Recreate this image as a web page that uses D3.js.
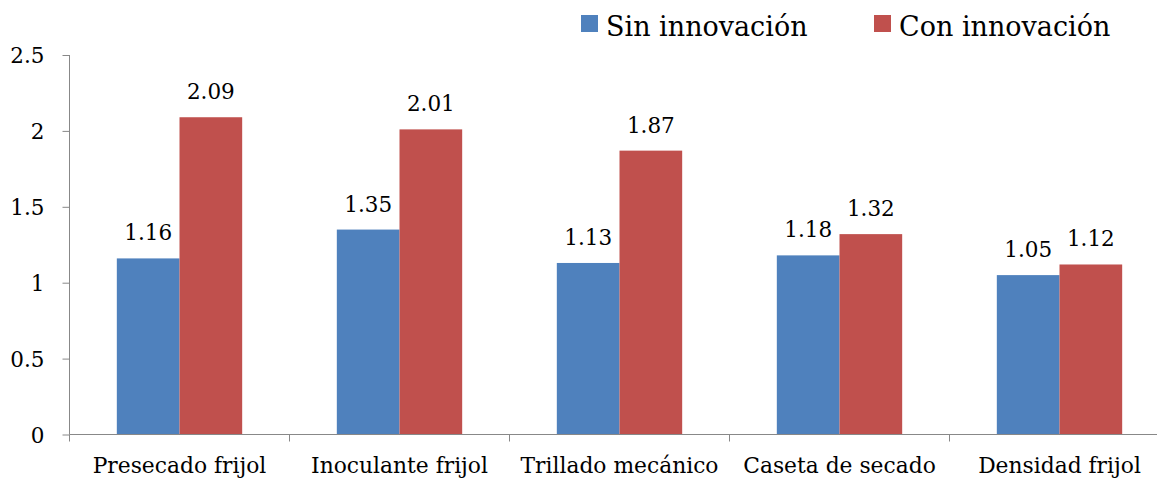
<!DOCTYPE html>
<html>
<head>
<meta charset="utf-8">
<script src="https://cdn.jsdelivr.net/npm/d3@7"></script>
<style>
  body { margin: 0; background: #fff; }
  text { font-family: "DejaVu Serif", serif; fill: #000; }
</style>
</head>
<body>
<script>
// chart data
var categories = ["Presecado frijol", "Inoculante frijol", "Trillado mecánico", "Caseta de secado", "Densidad frijol"];
var seriesNames = ["Sin innovación", "Con innovación"];
var sinValues = [1.16, 1.35, 1.13, 1.18, 1.05];
var conValues = [2.09, 2.01, 1.87, 1.32, 1.12];
var yTicks = [0, 0.5, 1, 1.5, 2, 2.5];

var colors = ["#4f81bd", "#c0504d"];
var axisColor = "#888888";

var width = 1157, height = 482;
var plotLeft = 69.5, plotRight = 1169.5, plotTop = 55, plotBottom = 434.5;

var svg = d3.select("body").append("svg")
  .attr("width", width)
  .attr("height", height);

var x = d3.scaleBand().domain(categories).range([plotLeft, plotRight]);
var inner = d3.scaleBand().domain([0, 1]).range([0, x.bandwidth()])
  .paddingInner(0).paddingOuter(0.755);
var y = d3.scaleLinear().domain([0, 2.5]).range([plotBottom, plotTop]);

var rows = categories.map(function(c, i){
  return { cat: c, vals: [sinValues[i], conValues[i]] };
});

// bars
var groups = svg.selectAll("g.cat")
  .data(rows)
  .enter()
  .append("g")
  .attr("class", "cat")
  .attr("transform", function(d){ return "translate(" + x(d.cat) + ",0)"; });

groups.selectAll("rect")
  .data(function(d){ return d.vals; })
  .enter()
  .append("rect")
  .attr("x", function(d, i){ return inner(i); })
  .attr("width", inner.bandwidth())
  .attr("y", function(d){ return y(d); })
  .attr("height", function(d){ return y(0) - y(d); })
  .attr("fill", function(d, i){ return colors[i]; });

// value labels
groups.selectAll("text.val")
  .data(function(d){ return d.vals; })
  .enter()
  .append("text")
  .attr("class", "val")
  .attr("x", function(d, i){ return inner(i) + inner.bandwidth() / 2; })
  .attr("y", function(d){ return y(d) - 18; })
  .attr("text-anchor", "middle")
  .style("font-size", "21.5px")
  .text(function(d){ return d.toFixed(2); });

// y axis
var yAxis = svg.append("g")
  .attr("transform", "translate(" + plotLeft + ",0)")
  .call(d3.axisLeft(y).tickValues(yTicks).tickSize(7).tickPadding(18)
    .tickFormat(function(d){ return String(d); }));
yAxis.select(".domain").attr("stroke", axisColor).attr("d", "M0," + plotTop + "V" + plotBottom);
yAxis.selectAll(".tick line").attr("stroke", axisColor);
yAxis.selectAll(".tick text")
  .attr("dy", "0.35em")
  .style("font-size", "21.5px")
  .style("font-family", "DejaVu Serif");

// x axis
var xAxis = svg.append("g")
  .attr("transform", "translate(0," + plotBottom + ")")
  .call(d3.axisBottom(x).tickSize(0).tickPadding(31));
xAxis.select(".domain").attr("stroke", axisColor).attr("d", "M" + plotLeft + ",0H" + plotRight);
xAxis.selectAll(".tick text")
  .attr("dy", "0.35em")
  .style("font-size", "21.8px")
  .style("font-family", "DejaVu Serif");

// tick marks between categories
var bounds = categories.map(function(c){ return x(c); }).concat([plotRight]);
xAxis.selectAll("line.sep")
  .data(bounds)
  .enter()
  .append("line")
  .attr("class", "sep")
  .attr("x1", function(d){ return d; })
  .attr("x2", function(d){ return d; })
  .attr("y1", 0)
  .attr("y2", 7)
  .attr("stroke", axisColor);

// legend
var legendX = [581, 874];
var legend = svg.selectAll("g.legend")
  .data(seriesNames)
  .enter()
  .append("g")
  .attr("class", "legend")
  .attr("transform", function(d, i){ return "translate(" + legendX[i] + ",15)"; });

legend.append("rect")
  .attr("width", 17)
  .attr("height", 17)
  .attr("fill", function(d, i){ return colors[i]; });

legend.append("text")
  .attr("x", 25)
  .attr("y", 21)
  .style("font-size", "27px")
  .text(function(d){ return d; });
</script>
</body>
</html>
